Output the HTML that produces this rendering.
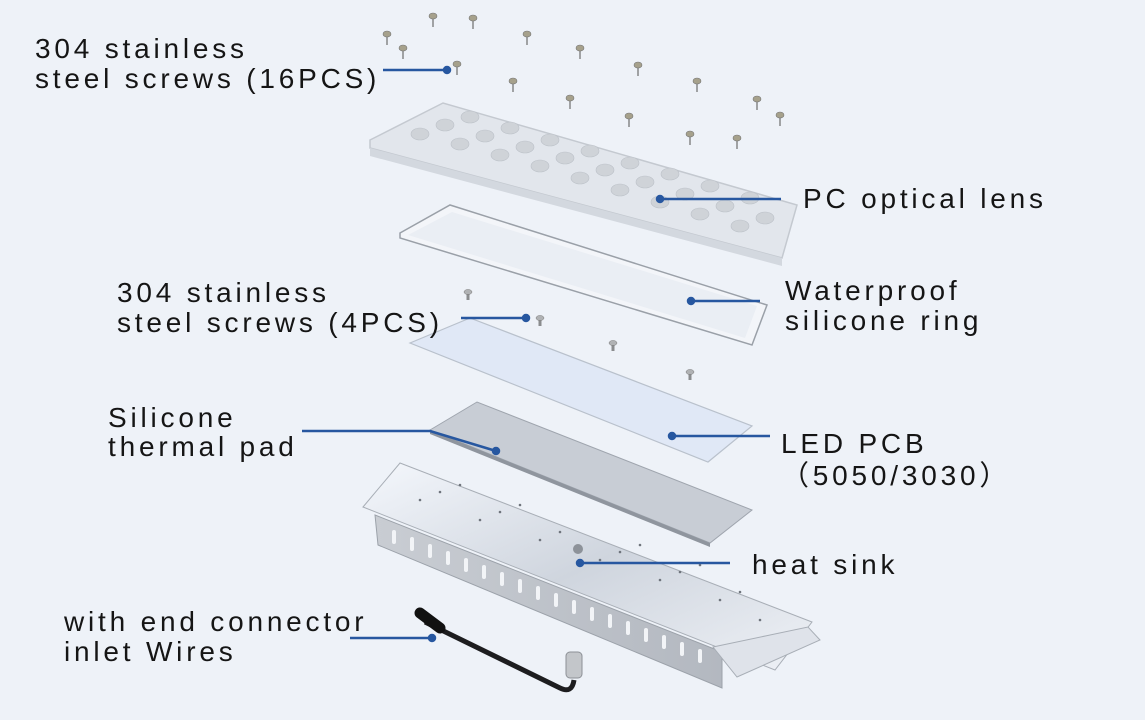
<!DOCTYPE html>
<html><head><meta charset="utf-8"><style>
html,body{margin:0;padding:0;background:#eef2f8;}
svg{display:block}
text{font-family:"Liberation Sans","Noto Sans CJK SC",sans-serif;font-size:28px;fill:#151515;letter-spacing:3.8px}
</style></head><body>
<svg width="1145" height="720" viewBox="0 0 1145 720" xmlns="http://www.w3.org/2000/svg">
<defs>
<linearGradient id="hs" x1="0" y1="0" x2="1" y2="1"><stop offset="0" stop-color="#f4f7fc"/><stop offset="0.5" stop-color="#cfd5de"/><stop offset="1" stop-color="#eef1f6"/></linearGradient>
<linearGradient id="wall" x1="0" y1="0" x2="1" y2="0"><stop offset="0" stop-color="#c9cdd3"/><stop offset="1" stop-color="#b3b8c0"/></linearGradient>
<g id="sc"><rect x="-0.8" y="2" width="1.6" height="10" fill="#8d8f90"/><ellipse cx="0" cy="1" rx="4" ry="3" fill="#a6a18c" stroke="#777" stroke-width="0.6"/></g>
<g id="sc2"><rect x="-1.5" y="1" width="3" height="7" fill="#8a8c8e"/><ellipse cx="0" cy="0" rx="4" ry="2.5" fill="#b0b2b4" stroke="#777" stroke-width="0.5"/></g>
</defs>
<rect width="1145" height="720" fill="#eef2f8"/>
<!-- lens -->
<polygon points="370,140 443,103 797,205 782,258 370,148" fill="#e2e6ec" stroke="#c4c9d0" stroke-width="1.5"/>
<polygon points="370,148 782,258 782,266 370,156" fill="#d3d8df"/>
<g fill="#cfd3d8" stroke="#bcc1c8" stroke-width="0.6">
<ellipse cx="420" cy="134" rx="9" ry="6"/><ellipse cx="445" cy="125" rx="9" ry="6"/><ellipse cx="470" cy="117" rx="9" ry="6"/>
<ellipse cx="460" cy="144" rx="9" ry="6"/><ellipse cx="485" cy="136" rx="9" ry="6"/><ellipse cx="510" cy="128" rx="9" ry="6"/>
<ellipse cx="500" cy="155" rx="9" ry="6"/><ellipse cx="525" cy="147" rx="9" ry="6"/><ellipse cx="550" cy="140" rx="9" ry="6"/>
<ellipse cx="540" cy="166" rx="9" ry="6"/><ellipse cx="565" cy="158" rx="9" ry="6"/><ellipse cx="590" cy="151" rx="9" ry="6"/>
<ellipse cx="580" cy="178" rx="9" ry="6"/><ellipse cx="605" cy="170" rx="9" ry="6"/><ellipse cx="630" cy="163" rx="9" ry="6"/>
<ellipse cx="620" cy="190" rx="9" ry="6"/><ellipse cx="645" cy="182" rx="9" ry="6"/><ellipse cx="670" cy="174" rx="9" ry="6"/>
<ellipse cx="660" cy="202" rx="9" ry="6"/><ellipse cx="685" cy="194" rx="9" ry="6"/><ellipse cx="710" cy="186" rx="9" ry="6"/>
<ellipse cx="700" cy="214" rx="9" ry="6"/><ellipse cx="725" cy="206" rx="9" ry="6"/><ellipse cx="750" cy="198" rx="9" ry="6"/>
<ellipse cx="740" cy="226" rx="9" ry="6"/><ellipse cx="765" cy="218" rx="9" ry="6"/>
</g>
<!-- ring -->
<polygon points="400,233 450,205 767,305 752,345 400,238" fill="#f3f5f9" stroke="#9aa0a8" stroke-width="1.5"/>
<polygon points="408,235 452,212 757,306 745,338" fill="#eaeef4"/>
<!-- PCB -->
<polygon points="410,343 470,318 752,426 708,462" fill="#e0e8f6" stroke="#b9c1cc" stroke-width="1.2"/>
<!-- thermal pad -->
<polygon points="430,430 477,402 752,510 710,543" fill="#c8cdd5" stroke="#9fa5ae" stroke-width="1"/>
<polygon points="430,430 710,543 710,547 430,434" fill="#8f959e"/>
<!-- heat sink -->
<polygon points="363,507 400,463 812,622 775,670" fill="url(#hs)" stroke="#a8aeb6" stroke-width="1"/>
<g fill="#6f747c">
<circle cx="420" cy="500" r="1.3"/><circle cx="440" cy="492" r="1.3"/><circle cx="460" cy="485" r="1.3"/><circle cx="480" cy="520" r="1.3"/><circle cx="500" cy="512" r="1.3"/><circle cx="520" cy="505" r="1.3"/><circle cx="540" cy="540" r="1.3"/><circle cx="560" cy="532" r="1.3"/><circle cx="600" cy="560" r="1.3"/><circle cx="620" cy="552" r="1.3"/><circle cx="640" cy="545" r="1.3"/><circle cx="660" cy="580" r="1.3"/><circle cx="680" cy="572" r="1.3"/><circle cx="700" cy="565" r="1.3"/><circle cx="720" cy="600" r="1.3"/><circle cx="740" cy="592" r="1.3"/><circle cx="760" cy="620" r="1.3"/>
</g>
<polygon points="375,515 722,652 722,688 378,545" fill="url(#wall)" stroke="#9ca2aa" stroke-width="1"/>
<polygon points="713,647 808,627 820,640 737,677" fill="#dfe3ea" stroke="#a8aeb6"/>
<g fill="#f2f4f7">
<rect x="392" y="530" width="4" height="14" rx="2"/><rect x="410" y="537" width="4" height="14" rx="2"/><rect x="428" y="544" width="4" height="14" rx="2"/><rect x="446" y="551" width="4" height="14" rx="2"/><rect x="464" y="558" width="4" height="14" rx="2"/><rect x="482" y="565" width="4" height="14" rx="2"/><rect x="500" y="572" width="4" height="14" rx="2"/><rect x="518" y="579" width="4" height="14" rx="2"/><rect x="536" y="586" width="4" height="14" rx="2"/><rect x="554" y="593" width="4" height="14" rx="2"/><rect x="572" y="600" width="4" height="14" rx="2"/><rect x="590" y="607" width="4" height="14" rx="2"/><rect x="608" y="614" width="4" height="14" rx="2"/><rect x="626" y="621" width="4" height="14" rx="2"/><rect x="644" y="628" width="4" height="14" rx="2"/><rect x="662" y="635" width="4" height="14" rx="2"/><rect x="680" y="642" width="4" height="14" rx="2"/><rect x="698" y="649" width="4" height="14" rx="2"/>
</g>
<circle cx="578" cy="549" r="5" fill="#8d9299"/>
<!-- cable -->
<path d="M425,622 L560,688 Q572,694 574,680" fill="none" stroke="#1d1d1f" stroke-width="5"/>
<path d="M420,613 L440,628" stroke="#111" stroke-width="11" stroke-linecap="round"/>
<rect x="566" y="652" width="16" height="26" rx="4" fill="#c3c6ca" stroke="#8c9096"/>
<!-- screws -->
<g>
<use href="#sc" x="433" y="15"/><use href="#sc" x="473" y="17"/><use href="#sc" x="387" y="33"/><use href="#sc" x="403" y="47"/><use href="#sc" x="527" y="33"/><use href="#sc" x="580" y="47"/><use href="#sc" x="457" y="63"/><use href="#sc" x="638" y="64"/><use href="#sc" x="513" y="80"/><use href="#sc" x="697" y="80"/><use href="#sc" x="757" y="98"/><use href="#sc" x="780" y="114"/><use href="#sc" x="570" y="97"/><use href="#sc" x="629" y="115"/><use href="#sc" x="690" y="133"/><use href="#sc" x="737" y="137"/>
<use href="#sc2" x="468" y="292"/><use href="#sc2" x="540" y="318"/><use href="#sc2" x="613" y="343"/><use href="#sc2" x="690" y="372"/>
</g>
<!-- leader lines -->
<g stroke="#2757a0" stroke-width="2.5" fill="#2757a0">
<line x1="383" y1="70" x2="447" y2="70"/><circle cx="447" cy="70" r="3"/>
<line x1="660" y1="199" x2="781" y2="199"/><circle cx="660" cy="199" r="3"/>
<line x1="691" y1="301" x2="760" y2="301"/><circle cx="691" cy="301" r="3"/>
<line x1="461" y1="318" x2="526" y2="318"/><circle cx="526" cy="318" r="3"/>
<polyline points="302,431 430,431 496,451" fill="none"/><circle cx="496" cy="451" r="3"/>
<line x1="672" y1="436" x2="770" y2="436"/><circle cx="672" cy="436" r="3"/>
<line x1="580" y1="563" x2="730" y2="563"/><circle cx="580" cy="563" r="3"/>
<line x1="350" y1="638" x2="432" y2="638"/><circle cx="432" cy="638" r="3"/>
</g>
<text x="35" y="58">304 stainless</text>
<text x="35" y="88">steel screws (16PCS)</text>
<text x="803" y="208">PC optical lens</text>
<text x="785" y="300">Waterproof</text>
<text x="785" y="330">silicone ring</text>
<text x="117" y="302">304 stainless</text>
<text x="117" y="332">steel screws (4PCS)</text>
<text x="108" y="427">Silicone</text>
<text x="108" y="456">thermal pad</text>
<text x="781" y="453">LED PCB</text>
<text x="781" y="485">（5050/3030）</text>
<text x="752" y="574">heat sink</text>
<text x="64" y="631">with end connector</text>
<text x="64" y="661">inlet Wires</text>
</svg>
</body></html>
